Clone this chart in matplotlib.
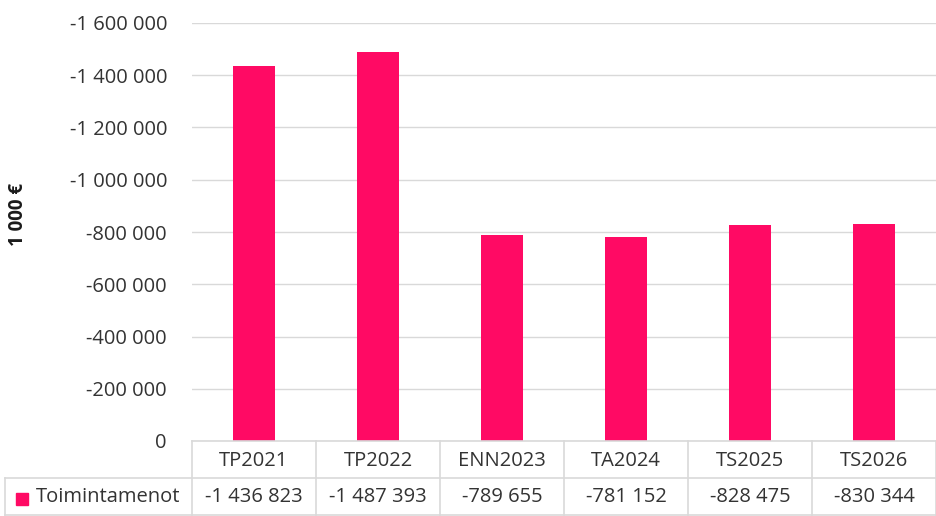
import matplotlib
matplotlib.use("Agg")
import matplotlib.pyplot as plt
from matplotlib.transforms import blended_transform_factory
from matplotlib.patches import Rectangle

categories = ["TP2021", "TP2022", "ENN2023", "TA2024", "TS2025", "TS2026"]
toimintamenot = [-1436823, -1487393, -789655, -781152, -828475, -830344]
series_name = "Toimintamenot"
y_ticks = [0, -200000, -400000, -600000, -800000, -1000000, -1200000, -1400000, -1600000]

BAR = "#FF0A64"
GRID = "#D9D9D9"
TXT = "#333333"
FS = 14.5


def fmt(v):
    return f"{v:,.0f}".replace(",", " ")


def main():
    plt.rcParams["font.family"] = ["Open Sans", "DejaVu Sans"]
    W, H = 936, 516
    fig = plt.figure(figsize=(W / 100, H / 100), dpi=100)

    x0, y_zero, y_top = 192, 441, 23
    ax = fig.add_axes([x0 / W, (H - y_zero) / H, (W - x0) / W, (y_zero - y_top) / H])

    xs = list(range(len(categories)))
    ax.bar(xs, toimintamenot, width=0.34, color=BAR, zorder=3)
    ax.set_xlim(-0.5, len(categories) - 0.5)
    ax.set_ylim(0, -1600000)
    ax.set_yticks(y_ticks)
    ax.set_yticklabels([fmt(v) for v in y_ticks], fontsize=FS, color=TXT)
    ax.tick_params(axis="y", length=0, pad=18)
    ax.set_xticks([])
    ax.grid(axis="y", color=GRID, linewidth=1, zorder=0)
    for s in ax.spines.values():
        s.set_visible(False)

    fig.text(18 / W, 1 - 214 / H, "1 000 €", rotation=90, fontsize=13.5,
             fontweight="bold", color="#1a1a1a", ha="center", va="center")

    # data table under the plot
    tr = blended_transform_factory(ax.transData, fig.transFigure)

    def fy(py):
        return 1 - py / H

    row1, row2, row3 = 441, 478, 515
    left_cell = 5 / W
    line_kw = dict(color=GRID, linewidth=1.2, clip_on=False)
    fig.add_artist(plt.Line2D([x0 / W, 1], [fy(row1), fy(row1)], transform=fig.transFigure, **line_kw))
    fig.add_artist(plt.Line2D([left_cell, 1], [fy(row2), fy(row2)], transform=fig.transFigure, **line_kw))
    fig.add_artist(plt.Line2D([left_cell, 1], [fy(row3), fy(row3)], transform=fig.transFigure, **line_kw))
    fig.add_artist(plt.Line2D([left_cell, left_cell], [fy(row2), fy(row3)], transform=fig.transFigure, **line_kw))
    for i in range(len(categories) + 1):
        b = i - 0.5
        ax.add_artist(plt.Line2D([b, b], [fy(row1), fy(row3)], transform=tr, **line_kw))

    for i, (c, v) in enumerate(zip(categories, toimintamenot)):
        ax.text(i, fy((row1 + row2) / 2 + 1), c, transform=tr, ha="center", va="center",
                fontsize=FS, color=TXT)
        ax.text(i, fy((row2 + row3) / 2 + 1), fmt(v), transform=tr, ha="center", va="center",
                fontsize=FS, color=TXT)

    fig.add_artist(Rectangle((16 / W, fy(505)), 12 / W, 12 / H, transform=fig.transFigure,
                             color=BAR, clip_on=False))
    fig.text(36 / W, fy((row2 + row3) / 2 + 1), series_name, fontsize=FS, color=TXT,
             ha="left", va="center")

    fig.savefig("out.png", dpi=100)


if __name__ == "__main__":
    main()
